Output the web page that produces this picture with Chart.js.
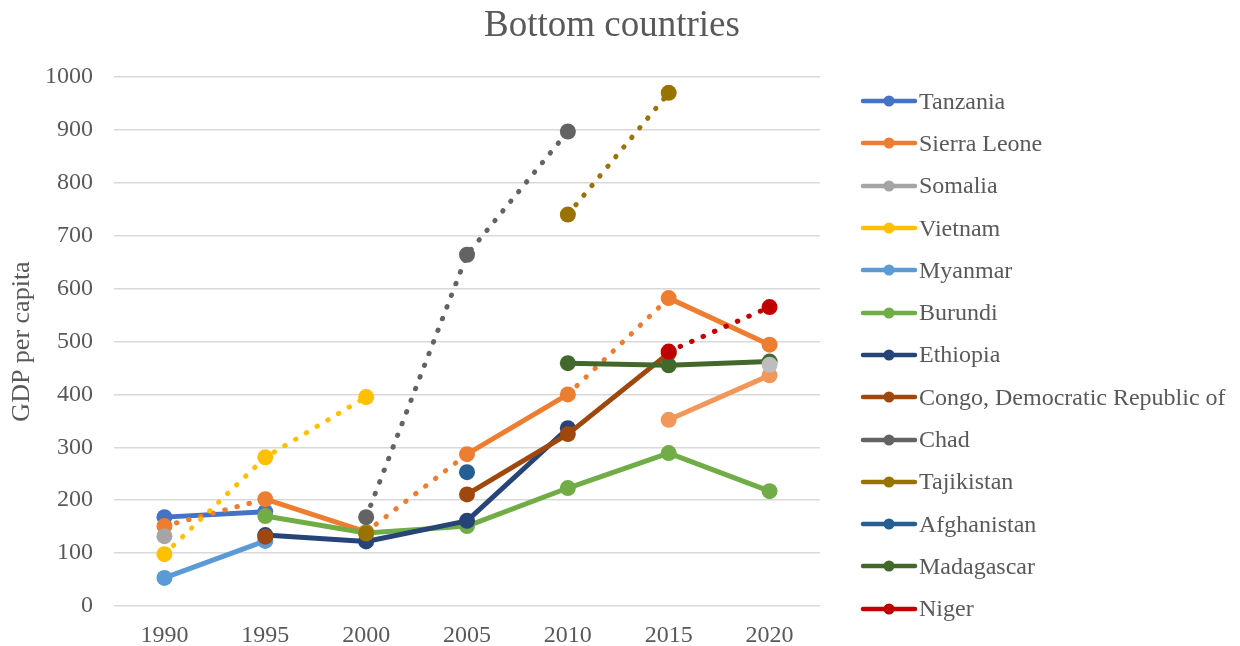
<!DOCTYPE html>
<html>
<head>
<meta charset="utf-8">
<script src="https://cdn.jsdelivr.net/npm/chart.js@4/dist/chart.umd.min.js"></script>
<style>
  html, body { margin: 0; padding: 0; background: #fff; overflow: hidden; }
  #wrap { width: 1240px; height: 646px; position: relative; font-family: 'Liberation Serif', 'Times New Roman', serif; color: #595959; }
  #title { position: absolute; left: 312px; width: 600px; top: 0; height: 48px; line-height: 48px; text-align: center; font-size: 37px; }
  #legend { position: absolute; left: 860px; top: 80px; }
  .item { height: 42.3px; display: flex; align-items: center; font-size: 24px; white-space: nowrap; }
  .item canvas { display: block; margin-right: 1px; }
</style>
</head>
<body>
<div id="wrap">
  <div id="title">Bottom countries</div>
  <canvas id="chart"></canvas>
  <div id="legend"></div>
</div>
<script>
const years = ['1990', '1995', '2000', '2005', '2010', '2015', '2020'];

// GDP per capita (null = no value)
const tanzania    = [168, 178, null, null, null, null, null];
const sierraLeone = [151, 202, 140, 287, 400, 582, 494];
const somalia     = [132, null, null, null, null, null, null];
const vietnam     = [98, 281, 395, null, null, null, null];
const myanmar     = [53, 123, null, null, null, null, null];
const burundi     = [null, 170, 138, 151, 223, 289, 217];
const ethiopia    = [null, 134, 122, 161, 336, null, null];
const congo       = [null, 131, null, 211, 325, 478, null];
const chad        = [null, null, 168, 664, 897, null, null];
const tajikistan  = [null, null, 137, null, 740, 970, null];
const afghanistan = [null, null, null, 253, null, null, null];
const madagascar  = [null, null, null, null, 459, 455, 462];
const niger       = [null, null, null, null, null, 481, 565];
// two further series that are not named in the legend
const extra14     = [null, null, null, null, null, 352, 436];
const extra15     = [null, null, null, null, null, null, 456];

const countryNames = ['Tanzania', 'Sierra Leone', 'Somalia', 'Vietnam', 'Myanmar', 'Burundi',
  'Ethiopia', 'Congo, Democratic Republic of', 'Chad', 'Tajikistan', 'Afghanistan', 'Madagascar', 'Niger'];
const countryValues = [tanzania, sierraLeone, somalia, vietnam, myanmar, burundi,
  ethiopia, congo, chad, tajikistan, afghanistan, madagascar, niger, extra14, extra15];
const colors = ['#4472C4', '#ED7D31', '#A5A5A5', '#FFC000', '#5B9BD5', '#70AD47',
  '#264478', '#9E480E', '#636363', '#997300', '#255E91', '#43682B', '#C00000', '#F1975A', '#BDBDBD'];
// 'dot' = dotted line all the way, 'alt' = dotted and solid in turn
const lineStyles = ['solid', 'alt', 'solid', 'dot', 'solid', 'solid',
  'solid', 'solid', 'dot', 'dot', 'solid', 'solid', 'dot', 'solid', 'solid'];

const DOTS = [0.5, 12];
const FONT = "'Liberation Serif', 'Times New Roman', serif";
const TEXT_COLOR = '#595959';

Chart.defaults.font.family = FONT;
Chart.defaults.color = TEXT_COLOR;

// small picture for the legend: a line with a dot in the middle
const legendIcon = (color) => {
  const c = document.createElement('canvas');
  c.width = 58;
  c.height = 14;
  const g = c.getContext('2d');
  g.strokeStyle = color;
  g.lineWidth = 4.5;
  g.lineCap = 'round';
  g.beginPath();
  g.moveTo(3, 7);
  g.lineTo(55, 7);
  g.stroke();
  g.fillStyle = color;
  g.beginPath();
  g.arc(29, 7, 5.5, 0, Math.PI * 2);
  g.fill();
  return c;
};

// Legend, built as html next to the chart
const legendEl = document.getElementById('legend');
countryNames.forEach((name, i) => {
  const row = document.createElement('div');
  row.className = 'item';
  row.appendChild(legendIcon(colors[i]));
  const span = document.createElement('span');
  span.textContent = name;
  row.appendChild(span);
  legendEl.appendChild(row);
});

const datasets = countryValues.map((values, i) => {
  const style = lineStyles[i];
  return {
    label: countryNames[i] || '',
    data: values,
    borderColor: colors[i],
    backgroundColor: colors[i],
    borderWidth: 5,
    borderCapStyle: 'round',
    borderJoinStyle: 'round',
    borderDash: style === 'dot' ? DOTS : [],
    segment: style === 'alt' ? {
      borderDash: ctx => ctx.p0DataIndex % 2 === 0 ? DOTS : []
    } : undefined,
    pointRadius: 8,
    pointHoverRadius: 8,
    pointBorderWidth: 0,
    spanGaps: false,
    tension: 0,
    order: 100 - i // later series on top, like the original
  };
});

new Chart(document.getElementById('chart'), {
  type: 'line',
  data: { labels: years, datasets: datasets },
  options: {
    responsive: true,
    maintainAspectRatio: false,
    animation: false,
    devicePixelRatio: 1,
    layout: { padding: { left: 4, right: 420, top: 77, bottom: 0 } },
    plugins: {
      title: { display: false },
      legend: { display: false },
      tooltip: { enabled: false }
    },
    scales: {
      x: {
        offset: true,
        grid: { display: false, drawTicks: false },
        border: { display: false },
        ticks: { font: { size: 24 }, color: TEXT_COLOR, padding: 15 },
        afterFit: (scale) => { scale.height = 40; }
      },
      y: {
        min: 0,
        max: 1000,
        ticks: {
          stepSize: 100,
          font: { size: 24 },
          color: TEXT_COLOR,
          padding: 21,
          callback: (value) => String(value)
        },
        grid: { color: '#D9D9D9', lineWidth: 1.5, drawTicks: false },
        border: { display: false },
        title: {
          display: true,
          text: 'GDP per capita',
          font: { size: 26 },
          color: TEXT_COLOR,
          padding: { top: 3, bottom: 7 }
        },
        afterFit: (scale) => { scale.width = 110; }
      }
    }
  }
});
</script>
</body>
</html>
